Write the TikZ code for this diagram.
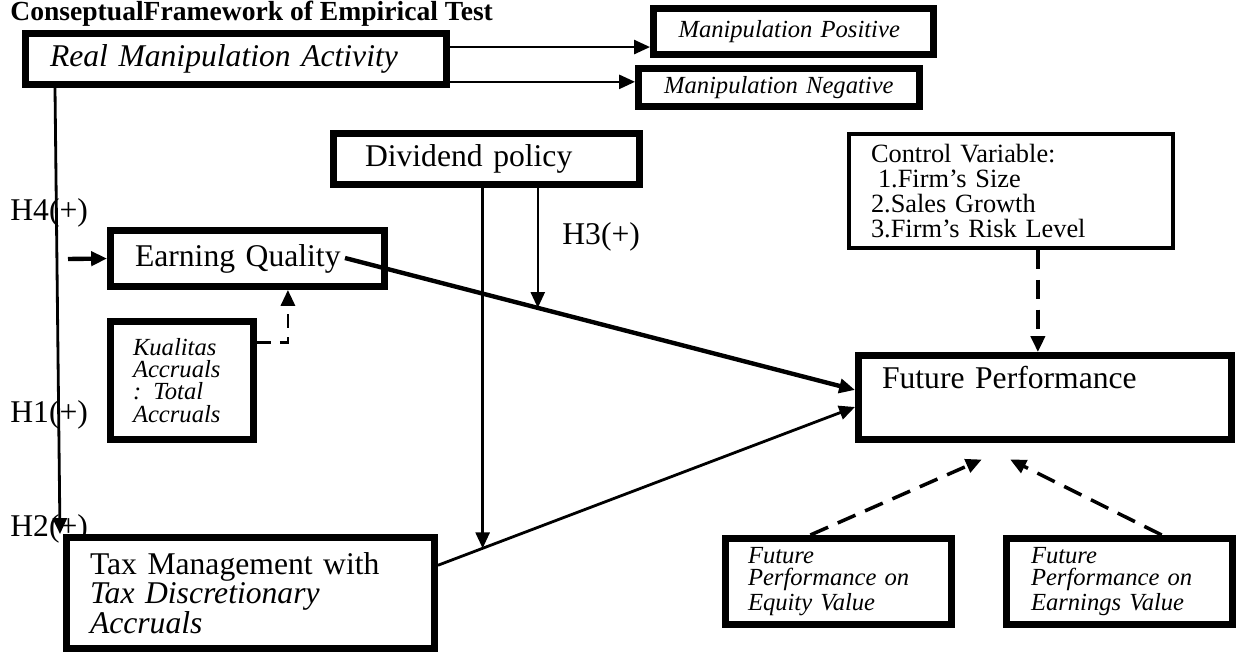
\documentclass[tikz,border=0pt]{standalone}
\usepackage{fontspec}
\setmainfont{Liberation Serif}
\usetikzlibrary{positioning}
\usetikzlibrary{calc}
\usetikzlibrary{arrows.meta}
\tikzset{mybox/.style={draw, line width=4pt, fill=white, align=left, inner sep=0pt, font=\fontsize{18}{16.7}\selectfont}}
\tikzset{myboxEm/.style={mybox, font=\fontsize{18}{16.7}\selectfont\itshape}}
\tikzset{myboxIt/.style={mybox, font=\fontsize{14}{12.6}\selectfont\itshape}}
\tikzset{myboxCtrl/.style={mybox, line width=2.2pt, font=\fontsize{15}{14.2}\selectfont}}
\tikzset{hyp/.style={anchor=west, inner sep=0pt, font=\fontsize{18}{18}\selectfont}}
\tikzset{myarrow/.style={-{Triangle[length=9pt,width=8pt]}, line width=1.3pt}}
\tikzset{mydash/.style={myarrow, line width=2pt, dash pattern=on 11pt off 6pt}}

\begin{document}
\begin{tikzpicture}
\useasboundingbox (0,0) rectangle (24.78,-13.02);

\node[anchor=base west, inner sep=0pt, font=\fontsize{15.7}{16}\selectfont\bfseries] (title) at (0.2,-0.42) {ConseptualFramework of Empirical Test};

\node[hyp] (h4) at (0.2,-4.26) {H4(+)};
\node[hyp] (h1) at (0.2,-8.30) {H1(+)};
\node[hyp] (h2) at (0.2,-10.58) {H2(+)};
\node[hyp] (h3) at (11.24,-4.74) {H3(+)};

\node[myboxEm, minimum width=8.42cm, minimum height=1.02cm, text width=7.44cm] (rma) at (4.72,-1.18) {Real Manipulation Activity};
\node[myboxIt, minimum width=5.6cm, minimum height=0.92cm, text width=4.6cm] (pos) at (15.87,-0.63) {Manipulation Positive};
\node[myboxIt, minimum width=5.62cm, minimum height=0.76cm, text width=4.6cm] (neg) at (15.58,-1.75) {Manipulation Negative};
\node[mybox, minimum width=6.12cm, minimum height=1.02cm, text width=4.86cm] (div) at (9.73,-3.18) {Dividend policy};
\node[myboxCtrl, minimum width=6.48cm, minimum height=2.28cm, text width=5.6cm] (ctrl) at (20.22,-3.82) {Control Variable:\\ \hspace*{4pt}1.Firm's Size\\ 2.Sales Growth\\ 3.Firm's Risk Level};
\node[mybox, minimum width=5.48cm, minimum height=1.12cm, text width=4.5cm] (eq) at (4.95,-5.17) {Earning Quality};
\node[myboxIt, minimum width=2.86cm, minimum height=2.36cm, text width=1.96cm] (kual) at (3.64,-7.61) {Kualitas\\ Accruals\\ : Total\\ Accruals};
\node[mybox, minimum width=7.46cm, minimum height=1.68cm, text width=6.52cm, text height=12.5pt, text depth=23pt] (fp) at (20.90,-7.95) {Future Performance};
\node[mybox, minimum width=7.36cm, minimum height=2.22cm, text width=6.42cm] (tax) at (5.01,-11.86) {Tax Management with\\ \textit{Tax Discretionary}\\ \textit{Accruals}};
\node[myboxIt, minimum width=4.52cm, minimum height=1.72cm, text width=3.62cm] (equity) at (16.77,-11.63) {Future\\ Performance on\\ Equity Value};
\node[myboxIt, minimum width=4.52cm, minimum height=1.72cm, text width=3.54cm] (earn) at (22.39,-11.63) {Future\\ Performance on\\ Earnings Value};

\coordinate (rpos) at ([yshift=6.8pt]rma.east);
\coordinate (rneg) at ([yshift=-13pt]rma.east);
\coordinate (vx1) at (1.1,0);
\coordinate (vx2) at (1.2,0);
\coordinate (eqin) at (1.36,-5.18);
\coordinate (eqout) at (6.9,-5.16);
\coordinate (fpin1) at ([yshift=4.3pt]fp.west);
\coordinate (fpin2) at ([yshift=-5.4pt]fp.west);
\coordinate (taxout) at ([yshift=15.8pt]tax.east);
\coordinate (h3tip) at ($(eqout)!0.378!(fpin1)$);
\coordinate (divtip) at ($(taxout)!0.107!(fpin2)$);
\coordinate (kout) at ([yshift=21.5pt]kual.east);
\coordinate (kin) at ([xshift=23pt]eq.south);
\coordinate (cout) at ([xshift=15.3pt]ctrl.south);
\coordinate (eqtip) at ([shift={(-36pt,-9.4pt)}]fp.south);
\coordinate (ertip) at ([shift={(-19.8pt,-9.4pt)}]fp.south);

\draw[myarrow, line width=1.2pt] (rpos) -- (rpos -| pos.west);
\draw[myarrow, line width=1.2pt] (rneg) -- (rneg -| neg.west);
\draw[myarrow, line width=1.6pt] (rma.south -| vx1) -- (tax.north -| vx2);
\draw[myarrow, line width=2.5pt] (eqin) -- (eq.west);
\draw[myarrow, line width=2.5pt] (eqout) -- (fpin1);
\draw[myarrow, line width=1.6pt] (taxout) -- (fpin2);
\draw[myarrow] (div.south -| divtip) -- (divtip);
\draw[myarrow] (div.south -| h3tip) -- (h3tip);
\draw[mydash, line width=1.6pt, dash pattern=on 8pt off 5pt] (kout) -| (kin);
\draw[mydash] (cout) -- (cout |- fp.north);
\draw[mydash] ([xshift=-16pt]equity.north) -- (eqtip);
\draw[mydash] ([xshift=24pt]earn.north) -- (ertip);

\end{tikzpicture}
\end{document}
